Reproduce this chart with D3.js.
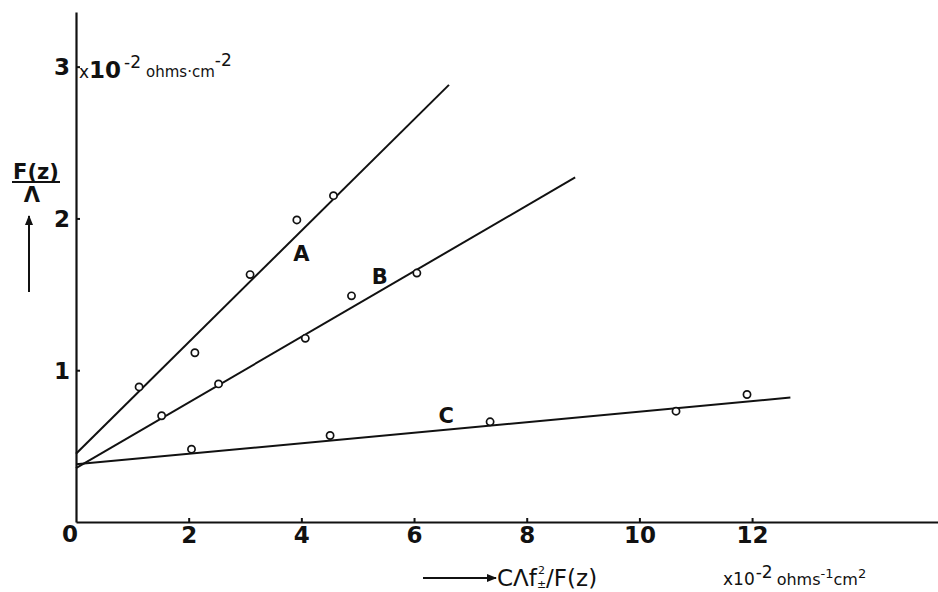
<!DOCTYPE html>
<html>
<head>
<meta charset="utf-8">
<script src="https://cdn.jsdelivr.net/npm/d3@7"></script>
<style>
  html, body { margin: 0; padding: 0; background: #fff; }
  svg { display: block; }
  text { fill: #111; font-family: "DejaVu Sans", sans-serif; }
</style>
</head>
<body>
<svg id="chart" width="938" height="592"></svg>
<script>
// Measured points for the three systems (x: CΛf±²/F(z) ×10⁻², y: F(z)/Λ ×10⁻²)
const seriesAx = [1.12, 2.11, 3.09, 3.92, 4.57];
const seriesAy = [0.89, 1.115, 1.63, 1.99, 2.15];
const seriesBx = [1.52, 2.53, 4.07, 4.89, 6.05];
const seriesBy = [0.70, 0.91, 1.21, 1.49, 1.64];
const seriesCx = [2.05, 4.51, 7.35, 10.65, 11.91];
const seriesCy = [0.48, 0.57, 0.66, 0.73, 0.84];

// Straight fitted lines, given by their end points
const lineA = [[0, 0.45], [6.62, 2.88]];
const lineB = [[0, 0.355], [8.86, 2.27]];
const lineC = [[0, 0.38], [12.68, 0.82]];

const curveNames = ["A", "B", "C"];
const curveLabelPos = [[4.0, 1.77], [5.39, 1.62], [6.57, 0.70]];

const xTicks = [2, 4, 6, 8, 10, 12];
const yTicks = [1, 2, 3];

const svg = d3.select("#chart");
const x = d3.scaleLinear().domain([0, 15.3]).range([76, 938]);
const y = d3.scaleLinear().domain([0, 3.36]).range([522, 12]);

const ink = "#111";

// Axes
const xAxis = d3.axisBottom(x).tickValues(xTicks).tickFormat(d3.format("d"))
  .tickSizeInner(-4).tickSizeOuter(0).tickPadding(5);
const gx = svg.append("g").attr("transform", `translate(0,${y(0)})`).call(xAxis);
const yAxis = d3.axisLeft(y).tickValues(yTicks).tickFormat(d3.format("d"))
  .tickSizeInner(-4).tickSizeOuter(0).tickPadding(6);
const gy = svg.append("g").attr("transform", `translate(${x(0)},0)`).call(yAxis);

[gx, gy].forEach(g => {
  g.select(".domain").attr("stroke", ink).attr("stroke-width", 2.2);
  g.selectAll(".tick line").attr("stroke", ink).attr("stroke-width", 2);
  g.selectAll(".tick text")
    .attr("fill", ink)
    .style("font-family", "'DejaVu Sans', sans-serif")
    .style("font-weight", "bold")
    .style("font-size", "23px");
});
gy.selectAll(".tick text").attr("dy", "0.36em");

// Shared origin label
svg.append("text").attr("x", 70).attr("y", 542)
  .attr("text-anchor", "middle")
  .style("font-weight", "bold").style("font-size", "23px")
  .text("0");

// Unit next to the top y tick
const yUnit = svg.append("text").attr("x", 79).attr("y", y(3) + 11);
yUnit.append("tspan").style("font-size", "17px").text("x");
yUnit.append("tspan").style("font-size", "23px").style("font-weight", "bold").text("10");
yUnit.append("tspan").style("font-size", "17px").attr("dy", -10).attr("dx", 3).text("-2");
yUnit.append("tspan").style("font-size", "15px").attr("dy", 9).attr("dx", 5).text("ohms·cm");
yUnit.append("tspan").style("font-size", "17px").attr("dy", -11).text("-2");

// Fitted lines
const lineGen = d3.line().x(d => x(d[0])).y(d => y(d[1]));
[lineA, lineB, lineC].forEach(l => {
  svg.append("path").datum(l)
    .attr("d", lineGen)
    .attr("fill", "none")
    .attr("stroke", ink)
    .attr("stroke-width", 2);
});

// Data points as open circles
const sets = [
  [seriesAx, seriesAy],
  [seriesBx, seriesBy],
  [seriesCx, seriesCy]
];
sets.forEach(([xs, ys]) => {
  svg.append("g").selectAll("circle")
    .data(xs.map((v, i) => [v, ys[i]]))
    .join("circle")
    .attr("cx", d => x(d[0]))
    .attr("cy", d => y(d[1]))
    .attr("r", 3.6)
    .attr("fill", "#fff")
    .attr("stroke", ink)
    .attr("stroke-width", 1.7);
});

// Curve names
curveNames.forEach((n, i) => {
  svg.append("text")
    .attr("x", x(curveLabelPos[i][0]))
    .attr("y", y(curveLabelPos[i][1]))
    .attr("text-anchor", "middle")
    .attr("dy", "0.36em")
    .style("font-size", "21px")
    .style("font-weight", "bold")
    .text(n);
});

// Y axis title: F(z) over Λ with an upward arrow
svg.append("text").attr("x", 36).attr("y", 179)
  .attr("text-anchor", "middle")
  .style("font-size", "21px").style("font-weight", "bold")
  .text("F(z)");
svg.append("line").attr("x1", 12).attr("x2", 60).attr("y1", 182).attr("y2", 182)
  .attr("stroke", ink).attr("stroke-width", 2);
svg.append("text").attr("x", 32).attr("y", 202)
  .attr("text-anchor", "middle")
  .style("font-size", "21px").style("font-weight", "bold")
  .text("Λ");

const defs = svg.append("defs");
defs.append("marker").attr("id", "head")
  .attr("viewBox", "0 0 10 10").attr("refX", 9).attr("refY", 5)
  .attr("markerWidth", 5).attr("markerHeight", 5)
  .attr("markerUnits", "strokeWidth")
  .attr("orient", "auto")
  .append("path").attr("d", "M0,1 L10,5 L0,9 Z").attr("fill", ink);

svg.append("line").attr("x1", 29).attr("x2", 29).attr("y1", 292).attr("y2", 216)
  .attr("stroke", ink).attr("stroke-width", 2).attr("marker-end", "url(#head)");

// X axis title with arrow; the exponent 2 sits above the ± subscript
svg.append("line").attr("x1", 423).attr("x2", 496).attr("y1", 578).attr("y2", 578)
  .attr("stroke", ink).attr("stroke-width", 2).attr("marker-end", "url(#head)");

const xTitle = svg.append("text").attr("x", 497).attr("y", 586)
  .style("font-size", "23px");
xTitle.append("tspan").text("CΛf");
const sup = xTitle.append("tspan").style("font-size", "11px")
  .attr("dx", 1).attr("dy", -12).text("2");
const supW = sup.node().getComputedTextLength();
xTitle.append("tspan").style("font-size", "11px")
  .attr("dx", -supW - 1).attr("dy", 14).text("±");
xTitle.append("tspan").attr("dx", 0).attr("dy", -2).text("/F(z)");

// X unit
const xUnit = svg.append("text").attr("x", 723).attr("y", 585);
xUnit.append("tspan").style("font-size", "17px").text("x10");
xUnit.append("tspan").style("font-size", "17px").attr("dy", -7).attr("dx", 1).text("-2");
xUnit.append("tspan").style("font-size", "16px").attr("dy", 7).attr("dx", 4).text("ohms");
xUnit.append("tspan").style("font-size", "13px").attr("dy", -7).text("-1");
xUnit.append("tspan").style("font-size", "16px").attr("dy", 7).text("cm");
xUnit.append("tspan").style("font-size", "13px").attr("dy", -7).text("2");
</script>
</body>
</html>
